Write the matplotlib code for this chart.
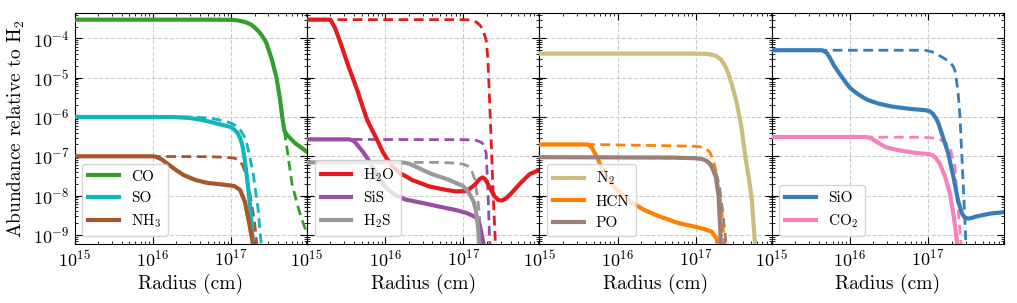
import matplotlib
matplotlib.use("Agg")
import matplotlib.pyplot as plt

plt.rcParams['font.family'] = 'serif'
plt.rcParams['font.serif'] = ['cmr10']
plt.rcParams['mathtext.fontset'] = 'cm'
plt.rcParams['axes.formatter.use_mathtext'] = True
plt.rcParams['axes.unicode_minus'] = False

# ---------------- data (radius in cm, abundance relative to H2) -------------
# Panel 1
co_r = [1e15, 5e16, 1.0e17, 1.15e17, 1.3e17, 1.45e17, 1.6e17, 1.8e17, 2.0e17, 2.25e17, 2.5e17, 2.8e17, 3.3e17, 3.8e17, 4.2e17, 4.5e17, 4.8e17, 5.2e17, 6.5e17, 9.3e17]
co_y = [3e-4, 3e-4, 2.97e-4, 2.9e-4, 2.8e-4, 2.65e-4, 2.5e-4, 2.25e-4, 1.9e-4, 1.5e-4, 1.15e-4, 8e-5, 3e-5, 1e-5, 3e-6, 1e-6, 4.5e-7, 3.5e-7, 2.2e-7, 1.3e-7]
co_dr = [4.8e17, 5.2e17, 6.0e17, 7.0e17, 8.0e17, 9.3e17]
co_dy = [4.5e-7, 1.5e-7, 2e-8, 6e-9, 2.5e-9, 1.1e-9]

so_r = [1e15, 1e16, 2e16, 3e16, 4e16, 5.5e16, 7e16, 8.5e16, 1e17, 1.1e17, 1.2e17, 1.3e17, 1.4e17, 1.5e17, 1.65e17, 1.8e17, 1.95e17]
so_y = [1e-6, 1e-6, 9.9e-7, 9.4e-7, 8.6e-7, 7.5e-7, 6.6e-7, 6e-7, 5.5e-7, 4.8e-7, 4e-7, 3e-7, 1.8e-7, 8e-8, 1.6e-8, 3e-9, 3e-10]
so_dr = [1e15, 3e16, 4.5e16, 6e16, 8e16, 1e17, 1.15e17, 1.3e17, 1.45e17, 1.6e17, 1.9e17, 2.2e17, 2.5e17]
so_dy = [1e-6, 1e-6, 9.6e-7, 9e-7, 8e-7, 7e-7, 6e-7, 4.8e-7, 3.4e-7, 2e-7, 4e-8, 5e-9, 3e-10]

nh3_r = [1e15, 1.0e16, 1.1e16, 1.3e16, 1.5e16, 2e16, 2.5e16, 3.5e16, 5e16, 8e16, 1.1e17, 1.3e17, 1.5e17, 1.7e17, 1.9e17, 2.1e17]
nh3_y = [1e-7, 1e-7, 9.7e-8, 8.3e-8, 6.7e-8, 4.4e-8, 3.3e-8, 2.5e-8, 2.1e-8, 1.9e-8, 1.75e-8, 1.4e-8, 7e-9, 2e-9, 6e-10, 1e-10]
nh3_dr = [1e15, 5e16, 8e16, 1.1e17, 1.25e17, 1.4e17, 1.55e17, 1.7e17, 2.0e17, 2.2e17]
nh3_dy = [1e-7, 9.8e-8, 9.5e-8, 9e-8, 8e-8, 6e-8, 3.5e-8, 1.5e-8, 2e-9, 3e-10]

# Panel 2
h2o_r = [1e15, 2e15, 2.3e15, 2.7e15, 3.3e15, 4.4e15, 5.0e15, 5.9e15, 7.9e15, 9.5e15, 1.15e16, 1.3e16, 1.55e16, 1.9e16, 2.2e16, 3.7e16, 6e16, 8e16, 1.1e17, 1.4e17, 1.6e17, 1.75e17, 1.9e17, 2.1e17, 2.5e17, 2.8e17, 3.1e17, 3.5e17, 4e17, 5.5e17, 7e17, 9.3e17]
h2o_y = [3e-4, 3e-4, 1.8e-4, 7.5e-5, 2.3e-5, 4.8e-6, 2.2e-6, 8.3e-7, 2.6e-7, 1.2e-7, 6.7e-8, 5e-8, 3.7e-8, 3e-8, 2.5e-8, 1.7e-8, 1.4e-8, 1.28e-8, 1.3e-8, 1.9e-8, 2.6e-8, 2.9e-8, 2.6e-8, 1.8e-8, 9.5e-9, 7.7e-9, 7.5e-9, 8.5e-9, 1.1e-8, 2.2e-8, 3.5e-8, 4.5e-8]
h2o_dr = [1e15, 1e17, 1.2e17, 1.35e17, 1.5e17, 1.65e17, 1.8e17, 1.95e17, 2.05e17, 2.1e17, 2.25e17, 2.4e17, 2.6e17]
h2o_dy = [3e-4, 3e-4, 2.95e-4, 2.8e-4, 2.5e-4, 2.1e-4, 1.5e-4, 9e-5, 3e-5, 1e-5, 3e-7, 1e-8, 3e-10]

sis_r = [1e15, 3.5e15, 4.0e15, 4.5e15, 5.2e15, 5.9e15, 6.9e15, 8e15, 9.5e15, 1.15e16, 1.4e16, 1.8e16, 2.3e16, 3e16, 5e16, 8e16, 1.1e17, 1.45e17, 1.65e17, 1.8e17, 1.9e17]
sis_y = [2.7e-7, 2.7e-7, 2.45e-7, 1.85e-7, 1.3e-7, 9e-8, 5.3e-8, 3e-8, 1.9e-8, 1.3e-8, 1e-8, 8e-9, 7.2e-9, 6.5e-9, 5.2e-9, 4.3e-9, 3.6e-9, 2.8e-9, 1.5e-9, 6e-10, 1e-10]
sis_dr = [1e15, 1e17, 1.3e17, 1.5e17, 1.7e17, 1.8e17, 1.95e17, 2.05e17, 2.15e17, 2.25e17]
sis_dy = [2.7e-7, 2.65e-7, 2.6e-7, 2.5e-7, 2.25e-7, 2e-7, 1.2e-7, 1.5e-8, 1e-9, 1e-10]

h2s_r = [1e15, 1.55e16, 1.75e16, 2e16, 2.4e16, 3e16, 4e16, 6.6e16, 8e16, 9.7e16, 1.1e17, 1.2e17, 1.35e17, 1.45e17, 1.55e17, 1.65e17]
h2s_y = [7e-8, 7e-8, 6.9e-8, 6.5e-8, 5.6e-8, 4.5e-8, 3.5e-8, 2.5e-8, 2.1e-8, 1.8e-8, 1.4e-8, 1.1e-8, 7e-9, 4e-9, 1.3e-9, 1e-10]
h2s_dr = [1e15, 5e16, 8e16, 1e17, 1.15e17, 1.25e17, 1.4e17, 1.55e17, 1.7e17, 1.8e17]
h2s_dy = [7e-8, 7e-8, 6.7e-8, 6.3e-8, 5.6e-8, 4.8e-8, 2.5e-8, 6e-9, 8e-10, 1e-10]

# Panel 3
n2_r = [1e15, 1e17, 1.3e17, 1.5e17, 1.8e17, 2.1e17, 2.4e17, 2.65e17, 2.9e17, 3.3e17, 3.8e17, 4.3e17, 4.8e17, 5.2e17, 5.7e17, 6.0e17]
n2_y = [4.1e-5, 4.1e-5, 4.05e-5, 3.95e-5, 3.6e-5, 2.9e-5, 1.9e-5, 1.15e-5, 6.5e-6, 2.5e-6, 6e-7, 9.5e-8, 2.5e-8, 7.7e-9, 6e-10, 1e-10]

hcn_r = [1e15, 4.2e15, 4.7e15, 5.4e15, 6.3e15, 7.2e15, 8.5e15, 9.8e15, 1.2e16, 1.4e16, 1.8e16, 2.2e16, 2.8e16, 3.7e16, 6e16, 1e17, 1.3e17, 1.6e17, 1.85e17, 2.0e17, 2.1e17]
hcn_y = [2e-7, 2e-7, 1.65e-7, 1e-7, 5e-8, 3e-8, 1.9e-8, 1.4e-8, 1e-8, 7.5e-9, 5.4e-9, 4.3e-9, 3.5e-9, 2.8e-9, 2e-9, 1.6e-9, 1.4e-9, 1.2e-9, 8e-10, 3e-10, 1e-10]
hcn_dr = [1e15, 4.5e15, 1e16, 5e16, 1e17, 1.2e17, 1.35e17, 1.5e17, 1.65e17, 1.8e17, 2.1e17, 2.3e17, 2.45e17]
hcn_dy = [2e-7, 2e-7, 1.95e-7, 1.85e-7, 1.8e-7, 1.7e-7, 1.55e-7, 1.3e-7, 8.5e-8, 4.5e-8, 6e-9, 8e-10, 1e-10]

po_r = [1e15, 5e16, 1.0e17, 1.2e17, 1.35e17, 1.5e17, 1.6e17, 1.7e17, 1.8e17, 1.95e17, 2.05e17, 2.15e17]
po_y = [9.5e-8, 9.3e-8, 8.9e-8, 8.5e-8, 7.8e-8, 6.5e-8, 5.3e-8, 4e-8, 3e-8, 1e-8, 1.5e-9, 1e-10]
po_dr = [1e15, 1.0e17, 1.2e17, 1.35e17, 1.5e17, 1.65e17, 1.8e17, 2.0e17, 2.2e17, 2.4e17, 2.55e17]
po_dy = [9.5e-8, 9e-8, 8.6e-8, 8e-8, 7e-8, 5.5e-8, 4e-8, 1.8e-8, 4e-9, 8e-10, 1e-10]

# Panel 4
sio_r = [1e15, 4.4e15, 5.0e15, 5.5e15, 6.3e15, 7.3e15, 8.5e15, 9.7e15, 1.1e16, 1.3e16, 1.5e16, 1.7e16, 2.3e16, 3.4e16, 6e16, 9e16, 1.05e17, 1.15e17, 1.25e17, 1.35e17, 1.55e17, 1.8e17, 2.1e17, 2.4e17, 2.7e17, 2.9e17, 3.2e17, 3.6e17, 4e17, 5e17, 6.3e17, 9.3e17]
sio_y = [5e-5, 5e-5, 4.4e-5, 3.3e-5, 2e-5, 1.3e-5, 8.5e-6, 5.9e-6, 4.7e-6, 3.7e-6, 3.1e-6, 2.7e-6, 2.2e-6, 1.85e-6, 1.6e-6, 1.5e-6, 1.4e-6, 1.2e-6, 9.5e-7, 7e-7, 3e-7, 1.2e-7, 3e-8, 7.7e-9, 3.5e-9, 2.8e-9, 2.6e-9, 2.7e-9, 2.9e-9, 3.2e-9, 3.5e-9, 3.8e-9]
sio_dr = [1e15, 9e16, 1.1e17, 1.35e17, 1.6e17, 1.9e17, 2.1e17, 2.2e17, 2.4e17, 2.55e17, 2.8e17, 3.0e17, 3.1e17]
sio_dy = [5e-5, 5e-5, 4.6e-5, 3.8e-5, 3.1e-5, 2.5e-5, 1.9e-5, 1.5e-5, 4.8e-6, 1e-6, 2e-8, 1e-9, 2e-10]

co2_r = [1e15, 1.6e16, 1.8e16, 2.0e16, 2.4e16, 2.9e16, 4e16, 5.6e16, 7.5e16, 1e17, 1.15e17, 1.25e17, 1.4e17, 1.65e17, 1.9e17, 2.15e17, 2.35e17, 2.5e17]
co2_y = [3.1e-7, 3.1e-7, 2.95e-7, 2.65e-7, 2.1e-7, 1.7e-7, 1.45e-7, 1.3e-7, 1.2e-7, 1.15e-7, 1.05e-7, 9e-8, 6.7e-8, 3e-8, 1.1e-8, 2.5e-9, 6e-10, 1e-10]
co2_dr = [1e15, 8e16, 1.1e17, 1.3e17, 1.6e17, 1.9e17, 2.2e17, 2.4e17, 2.65e17, 2.8e17]
co2_dy = [3.1e-7, 3.05e-7, 2.95e-7, 2.8e-7, 2.4e-7, 1.7e-7, 5.3e-8, 5e-9, 5e-10, 1e-10]

panels = [
    [("CO", "#33a02c", co_r, co_y, co_dr, co_dy),
     ("SO", "#10b6b8", so_r, so_y, so_dr, so_dy),
     ("NH$_3$", "#a65628", nh3_r, nh3_y, nh3_dr, nh3_dy)],
    [("H$_2$O", "#e41a1c", h2o_r, h2o_y, h2o_dr, h2o_dy),
     ("SiS", "#984ea3", sis_r, sis_y, sis_dr, sis_dy),
     ("H$_2$S", "#999999", h2s_r, h2s_y, h2s_dr, h2s_dy)],
    [("N$_2$", "#ccbd7e", n2_r, n2_y, None, None),
     ("HCN", "#ff7f00", hcn_r, hcn_y, hcn_dr, hcn_dy),
     ("PO", "#9b7f79", po_r, po_y, po_dr, po_dy)],
    [("SiO", "#377eb8", sio_r, sio_y, sio_dr, sio_dy),
     ("CO$_2$", "#f781bf", co2_r, co2_y, co2_dr, co2_dy)],
]

fig, axes = plt.subplots(1, 4, sharey=True, figsize=(10.17, 3.03), dpi=100)
fig.subplots_adjust(left=0.0733, right=0.9872, top=0.958, bottom=0.195, wspace=0)

for ax, species in zip(axes, panels):
    for name, col, r, y, dr, dy in species:
        ax.plot(r, y, color=col, lw=3, label=name, zorder=3, solid_joinstyle='round')
        if dr is not None:
            ax.plot(dr, dy, color=col, lw=2, ls=(0, (3.5, 2)), zorder=2)
    ax.set_xscale('log')
    ax.set_yscale('log')
    ax.set_xlim(1e15, 9.3e17)
    ax.set_ylim(5.9e-10, 4.5e-4)
    ax.grid(True, which='major', ls='--', color='#cccccc', lw=0.8)
    ax.tick_params(which='both', direction='in', top=True, right=True, labelsize=13)
    ax.tick_params(which='major', length=5)
    ax.tick_params(which='minor', length=2.5)
    ax.set_xlabel("Radius (cm)", fontsize=14, labelpad=3)
    ax.legend(loc='lower left', fontsize=11, framealpha=0.8, edgecolor='#cccccc')

axes[0].set_ylabel("Abundance relative to H$_2$", fontsize=14)

fig.savefig("out.png", dpi=100)
